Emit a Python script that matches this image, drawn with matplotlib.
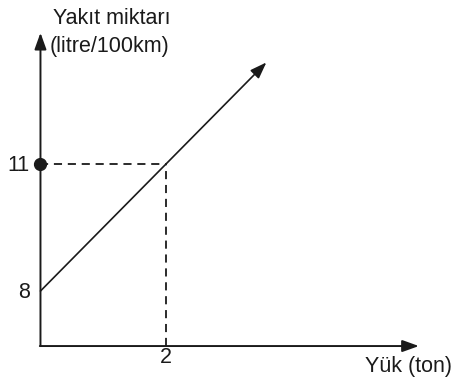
import matplotlib.pyplot as plt

plt.rcParams['font.family'] = ['Liberation Sans', 'DejaVu Sans']

# schematic data
line_x = [0, 3.6]
line_y = [8, 13.4]
point_x = 2
point_y = 11
y_ticks = [8, 11]
y_tick_labels = ["8", "11"]
x_ticks = [2]
x_tick_labels = ["2"]
origin = (0, 6.7)
x_axis_end = 6.03
y_axis_end = 14.1

ink = '#1a1a1a'
fs = 15.5

fig = plt.figure(figsize=(4.55, 3.78), dpi=100)
ax = fig.add_axes([0, 0, 1, 1])
ax.set_xlim(-0.645, 6.606)
ax.set_ylim(5.945, 14.875)
ax.axis('off')

arrow = dict(arrowstyle='-|>,head_length=0.5,head_width=0.18', color=ink,
             lw=1.4, shrinkA=0, shrinkB=0, mutation_scale=20)

# axes with arrows
ax.annotate('', xy=(origin[0], y_axis_end), xytext=origin, arrowprops=arrow)
ax.annotate('', xy=(x_axis_end, origin[1]), xytext=(origin[0] - 0.01, origin[1]),
            arrowprops=arrow)

# main line with arrow
ax.annotate('', xy=(line_x[1], line_y[1]), xytext=(line_x[0], line_y[0]),
            arrowprops=dict(arrow, lw=1.2))

# dashed guides
ax.plot([origin[0], point_x], [point_y, point_y], color=ink, lw=1.3,
        dashes=(4.5, 3.2))
ax.plot([point_x, point_x], [origin[1], point_y], color=ink, lw=1.3,
        dashes=(4.5, 3.2))
ax.plot([origin[0]], [point_y], 'o', color=ink, ms=8.5)

# tick labels
for v, lab in zip(y_ticks, y_tick_labels):
    ax.text(-0.17, v - 0.17, lab, ha='right', va='baseline', fontsize=fs, color=ink)
for v, lab in zip(x_ticks, x_tick_labels):
    ax.text(v, 6.30, lab, ha='center', va='baseline', fontsize=fs, color=ink)

# axis titles
ax.text(0.2, 14.31, "Yakıt miktarı", ha='left', va='baseline', fontsize=fs,
        color=ink)
ax.text(0.15, 13.65, "(litre/100km)", ha='left', va='baseline', fontsize=fs,
        color=ink)
ax.text(6.56, 6.09, "Yük (ton)", ha='right', va='baseline', fontsize=fs,
        color=ink)

fig.savefig("out.png", dpi=100)
